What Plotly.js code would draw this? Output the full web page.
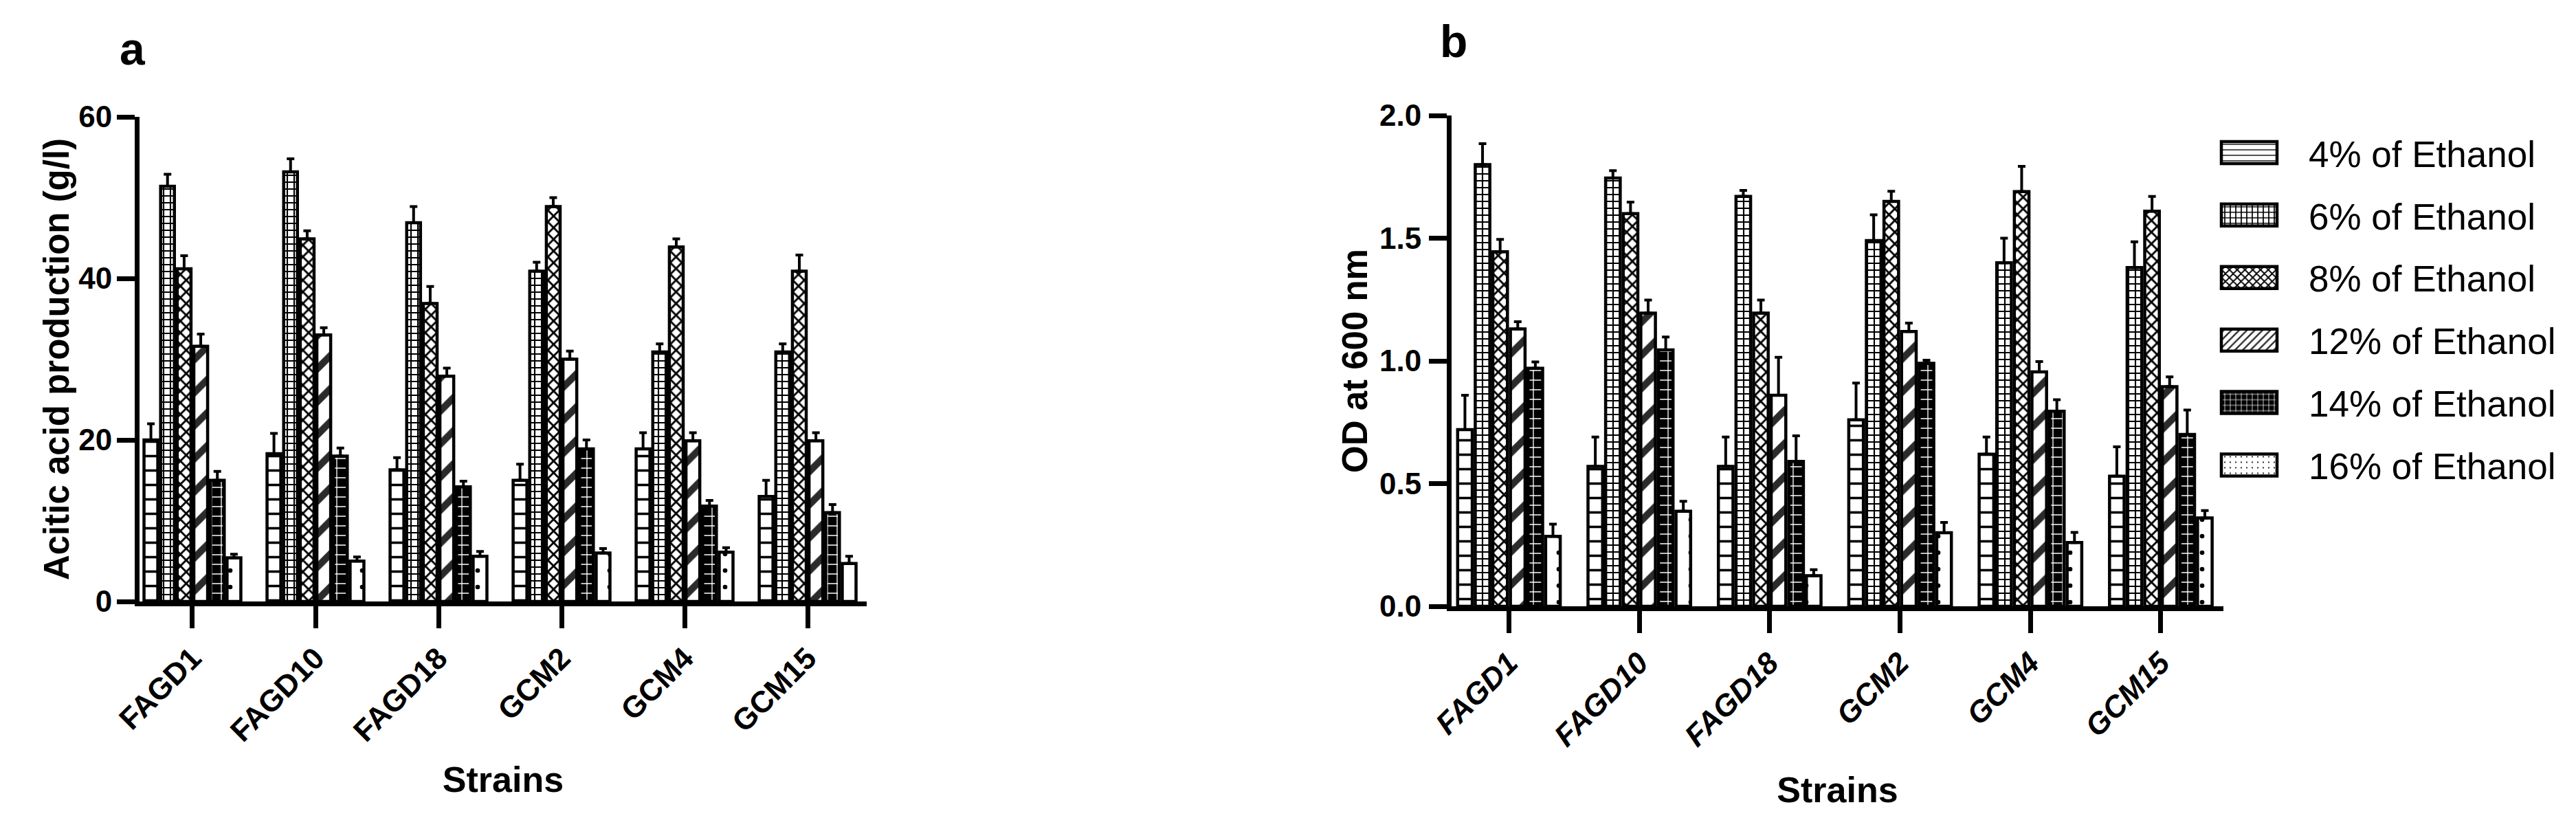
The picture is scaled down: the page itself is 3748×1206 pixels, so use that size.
<!DOCTYPE html>
<html>
<head>
<meta charset="utf-8">
<script src="https://cdn.plot.ly/plotly-3.0.1.min.js"></script>
<style>
  html, body { margin: 0; padding: 0; background: #fff; }
  #chart { width: 3748px; height: 1206px; }
</style>
</head>
<body>
<div id="chart"></div>
<script>
var strains = ['FAGD1', 'FAGD10', 'FAGD18', 'GCM2', 'GCM4', 'GCM15'];
var levels = ['4% of Ethanol', '6% of Ethanol', '8% of Ethanol',
              '12% of Ethanol', '14% of Ethanol', '16% of Ethanol'];

// acetic acid production (g/l), one array per ethanol level
var acid_4  = [20.0, 18.3, 16.3, 15.0, 18.9, 13.0];
var acid_6  = [51.4, 53.2, 46.9, 40.9, 30.9, 30.9];
var acid_8  = [41.2, 44.9, 36.9, 48.9, 43.9, 40.9];
var acid_12 = [31.6, 33.0, 27.9, 30.0, 19.9, 19.9];
var acid_14 = [15.0, 18.0, 14.2, 18.9, 11.8, 11.0];
var acid_16 = [5.4, 5.0, 5.6, 6.0, 6.1, 4.7];

var acid_err_4  = [2.0, 2.5, 1.5, 2.0, 2.0, 2.0];
var acid_err_6  = [1.5, 1.6, 2.0, 1.1, 1.0, 1.0];
var acid_err_8  = [1.6, 1.0, 2.1, 1.1, 1.0, 2.0];
var acid_err_12 = [1.5, 0.9, 1.0, 1.0, 1.0, 1.0];
var acid_err_14 = [1.1, 1.0, 0.7, 1.1, 0.7, 1.0];
var acid_err_16 = [0.45, 0.5, 0.6, 0.55, 0.55, 0.9];

// OD at 600 nm
var od_4  = [0.72, 0.57, 0.57, 0.76, 0.62, 0.53];
var od_6  = [1.80, 1.745, 1.67, 1.49, 1.40, 1.38];
var od_8  = [1.445, 1.60, 1.195, 1.65, 1.69, 1.61];
var od_12 = [1.13, 1.195, 0.86, 1.12, 0.955, 0.895];
var od_14 = [0.97, 1.045, 0.59, 0.99, 0.795, 0.70];
var od_16 = [0.285, 0.387, 0.125, 0.30, 0.26, 0.36];

var od_err_4  = [0.14, 0.12, 0.12, 0.15, 0.07, 0.12];
var od_err_6  = [0.085, 0.03, 0.025, 0.105, 0.10, 0.105];
var od_err_8  = [0.05, 0.047, 0.053, 0.041, 0.103, 0.06];
var od_err_12 = [0.03, 0.053, 0.155, 0.034, 0.042, 0.04];
var od_err_14 = [0.026, 0.052, 0.105, 0.013, 0.047, 0.10];
var od_err_16 = [0.05, 0.041, 0.024, 0.042, 0.041, 0.03];

var acid = [acid_4, acid_6, acid_8, acid_12, acid_14, acid_16];
var acidErr = [acid_err_4, acid_err_6, acid_err_8, acid_err_12, acid_err_14, acid_err_16];
var od = [od_4, od_6, od_8, od_12, od_14, od_16];
var odErr = [od_err_4, od_err_6, od_err_8, od_err_12, od_err_14, od_err_16];

var FONT = 'Liberation Sans, Arial, sans-serif';

// fill patterns (GraphPad style hatching)
var patterns = [
  {shape: '-', bgcolor: 'white', fgcolor: 'black', size: 21, solidity: 0.17},
  {shape: '+', bgcolor: 'white', fgcolor: 'black', size: 10, solidity: 0.38},
  {shape: 'x', bgcolor: 'white', fgcolor: 'black', size: 12, solidity: 0.42},
  {shape: '/', bgcolor: 'white', fgcolor: '#2b2b2b', size: 34, solidity: 0.3},
  {shape: '+', bgcolor: 'black', fgcolor: 'white', size: 14, solidity: 0.18},
  {shape: '.', bgcolor: 'white', fgcolor: 'black', size: 24, solidity: 0.06}
];

function zeros(n) { var z = []; for (var i = 0; i < n; i++) z.push(0); return z; }

var data = [];
for (var i = 0; i < levels.length; i++) {
  data.push({
    type: 'bar', name: levels[i], x: strains, y: acid[i],
    xaxis: 'x', yaxis: 'y', legendgroup: levels[i], showlegend: false,
    marker: {color: 'white', line: {color: 'black', width: 4.5}, pattern: patterns[i]},
    error_y: {type: 'data', symmetric: false, array: acidErr[i], arrayminus: zeros(strains.length),
              color: 'black', thickness: 4, width: 5.5}
  });
}
for (var j = 0; j < levels.length; j++) {
  data.push({
    type: 'bar', name: levels[j], x: strains, y: od[j],
    xaxis: 'x2', yaxis: 'y2', legendgroup: levels[j], showlegend: true,
    marker: {color: 'white', line: {color: 'black', width: 4.5}, pattern: patterns[j]},
    error_y: {type: 'data', symmetric: false, array: odErr[j], arrayminus: zeros(strains.length),
              color: 'black', thickness: 4, width: 5.5}
  });
}

function xax(domain, range, italic, standoff) {
  return {
    domain: domain, range: range, type: 'category',
    showline: true, linewidth: 7, linecolor: 'black', mirror: false,
    ticks: 'outside', ticklen: 32, tickwidth: 7, tickcolor: 'black',
    tickangle: -45, showgrid: false, zeroline: false,
    tickfont: {family: FONT, size: 44, weight: 'bold', style: italic ? 'italic' : 'normal', color: 'black'},
    title: {text: 'Strains', standoff: standoff, font: {family: FONT, size: 52, weight: 'bold', color: 'black'}}
  };
}
function yax(domain, range, dtick, fmt, title, standoff, labelOff) {
  return {
    domain: domain, range: range, dtick: dtick, tickformat: fmt,
    showline: true, linewidth: 7, linecolor: 'black',
    ticks: 'outside', ticklen: 26, tickwidth: 7, tickcolor: 'black',
    showgrid: false, zeroline: false, ticklabelstandoff: labelOff,
    tickfont: {family: FONT, size: 44, weight: 'bold', color: 'black'},
    title: {text: title, standoff: standoff, font: {family: FONT, size: 51, weight: 'bold', color: 'black'}}
  };
}

var W = 3748, H = 1206;
var layout = {
  width: W, height: H,
  margin: {l: 0, r: 0, t: 0, b: 0},
  paper_bgcolor: 'white', plot_bgcolor: 'white',
  barmode: 'group', bargap: 0.19, bargroupgap: 0.17,
  font: {family: FONT, color: 'black'},
  showlegend: true,
  legend: {
    x: 3219 / W, y: 1 - 181 / H, xanchor: 'left', yanchor: 'top',
    traceorder: 'grouped', tracegroupgap: 19, itemwidth: 130,
    font: {family: FONT, size: 53, color: 'black'}, bgcolor: 'rgba(0,0,0,0)'
  },
  xaxis: xax([203 / W, 1261 / W], [-0.43, 5.48], false, 31),
  yaxis: yax([1 - 875 / H, 1 - 170 / H], [0, 60], 20, '', 'Acitic acid production (g/l)', 0, -2),
  xaxis2: xax([2112 / W, 3235 / W], [-0.44, 5.48], true, 39),
  yaxis2: yax([1 - 882 / H, 1 - 168 / H], [0, 2], 0.5, '.1f', 'OD at 600 nm', 4, 2),
  annotations: [
    {text: 'a', xref: 'paper', yref: 'paper', x: 193 / W, y: 1 - 71 / H,
     xanchor: 'center', yanchor: 'middle', showarrow: false,
     font: {family: FONT, size: 66, weight: 'bold', color: 'black'}},
    {text: 'b', xref: 'paper', yref: 'paper', x: 2115 / W, y: 1 - 60 / H,
     xanchor: 'center', yanchor: 'middle', showarrow: false,
     font: {family: FONT, size: 66, weight: 'bold', color: 'black'}}
  ]
};
layout.xaxis.anchor = 'y';
layout.yaxis.anchor = 'x';
layout.xaxis2.anchor = 'y2';
layout.yaxis2.anchor = 'x2';

Plotly.newPlot('chart', data, layout, {staticPlot: true}).then(function (gd) {
  // enlarge the legend swatches to GraphPad-like wide boxes
  gd.querySelectorAll('.legend .traces').forEach(function (tr) {
    var txt = tr.querySelector('.legendtext');
    var p = tr.querySelector('.legendpoints path');
    if (!txt || !p) return;
    var tx = parseFloat(txt.getAttribute('x')) || 0;
    var m = /translate\(([-\d.]+)/.exec(p.getAttribute('transform') || '');
    var cx = m ? parseFloat(m[1]) : 0;
    var right = tx - 46 - cx, left = right - 81;
    p.setAttribute('d', 'M' + left + ',-16H' + right + 'V16H' + left + 'Z');
    p.style.strokeWidth = '4.5px';
  });
});
</script>
</body>
</html>
